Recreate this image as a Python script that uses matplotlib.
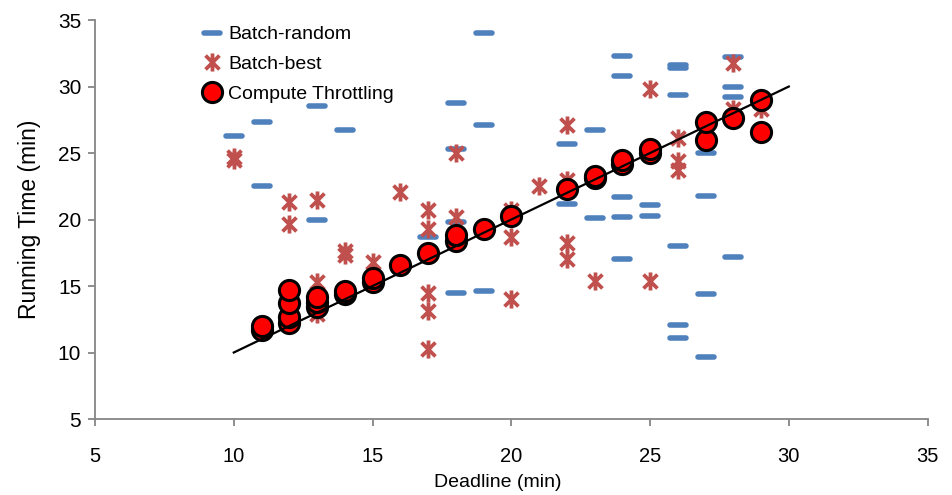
import matplotlib.pyplot as plt
from matplotlib.markers import MarkerStyle
from matplotlib.path import Path

plt.rcParams['font.family'] = ['Liberation Sans', 'DejaVu Sans']

# Batch-random (blue dashes): deadline -> running times
random_x = [10, 11, 11, 13, 13, 14, 17, 18, 18, 18, 18, 19, 19, 19,
            22, 22, 23, 23, 24, 24, 24, 24, 24, 25, 25,
            26, 26, 26, 26, 26, 26, 27, 27, 27, 27, 28, 28, 28, 28]
random_y = [26.3, 27.3, 22.5, 28.5, 20.0, 26.7, 18.7, 28.8, 25.3, 19.8, 14.5, 34.0, 27.1, 14.6,
            25.7, 21.2, 26.7, 20.1, 32.3, 30.8, 21.7, 20.2, 17.0, 21.1, 20.3,
            31.6, 31.4, 29.4, 18.0, 12.1, 11.1, 25.0, 21.8, 14.4, 9.7, 32.2, 30.0, 29.2, 17.2]

# Batch-best (red stars)
best_x = [10, 10, 12, 12, 13, 13, 13, 14, 14, 15, 16, 17, 17, 17, 17, 17, 18, 18,
          20, 20, 20, 21, 22, 22, 22, 22, 23, 25, 25, 26, 26, 26, 28, 28, 29]
best_y = [24.7, 24.5, 21.3, 19.7, 21.5, 15.3, 12.9, 17.6, 17.3, 16.8, 22.1,
          20.7, 19.3, 14.5, 13.1, 10.3, 25.0, 20.2,
          20.7, 18.7, 14.0, 22.5, 27.1, 23.0, 18.2, 17.0, 15.4, 29.8, 15.4,
          26.1, 24.4, 23.7, 31.8, 28.3, 28.3]

# Compute Throttling (red circles)
throttle_x = [11, 11, 12, 12, 12, 12, 13, 13, 13, 14, 14, 15, 15, 16, 17, 18, 18, 19, 20,
              22, 23, 23, 24, 24, 25, 25, 27, 27, 28, 29, 29]
throttle_y = [11.7, 12.0, 12.2, 12.7, 13.7, 14.7, 13.4, 13.8, 14.2, 14.4, 14.6, 15.3, 15.6,
              16.6, 17.5, 18.4, 18.8, 19.3, 20.3, 22.3, 23.1, 23.3, 24.2, 24.5, 25.0, 25.3,
              26.0, 27.3, 27.6, 29.0, 26.6]

# reference line (deadline == running time)
ideal_x = [10, 30]
ideal_y = [10, 30]

axis_grey = '#868686'

# asterisk marker as drawn by Excel: an x with a vertical bar
star_path = Path(
    [(-1, -1), (1, 1), (-1, 1), (1, -1), (0, -1.3), (0, 1.3)],
    [Path.MOVETO, Path.LINETO, Path.MOVETO, Path.LINETO, Path.MOVETO, Path.LINETO]
)

fig = plt.figure(figsize=(9.53, 4.95), dpi=100)
ax = fig.add_axes([0.0997, 0.1535, 0.8736, 0.806])

ax.plot(random_x, random_y, linestyle='none',
        marker=MarkerStyle('_', capstyle='round'), markersize=12,
        markeredgewidth=4, color='#4F81BD', label='Batch-random', zorder=2)
ax.plot(best_x, best_y, linestyle='none', marker=star_path, markersize=13,
        markeredgewidth=2.7, color='#C0504D', markerfacecolor='none',
        label='Batch-best', zorder=3)
ax.plot(throttle_x, throttle_y, linestyle='none', marker='o', markersize=14.5,
        markerfacecolor='#FF0000', markeredgecolor='black', markeredgewidth=2.2,
        label='Compute Throttling', zorder=4)
ax.plot(ideal_x, ideal_y, color='black', linewidth=1.6, zorder=5)

ax.set_xlim(5, 35)
ax.set_ylim(5, 35)
ax.set_xticks(range(5, 36, 5))
ax.set_yticks(range(5, 36, 5))

for side in ['top', 'right']:
    ax.spines[side].set_visible(False)
for side in ['left', 'bottom']:
    ax.spines[side].set_color(axis_grey)
    ax.spines[side].set_linewidth(1.3)
ax.tick_params(direction='out', length=5, width=1.3, color=axis_grey,
               labelsize=15, labelcolor='black', pad=5)
ax.tick_params(axis='x', labelsize=14.5, pad=15)

ax.set_xlabel('Deadline (min)', fontsize=14, va='center')
ax.xaxis.set_label_coords(0.484, -0.16)
ax.set_ylabel('Running Time (min)', fontsize=16.5, labelpad=12)

ax.legend(loc='upper left', bbox_to_anchor=(0.12, 1.005), frameon=False,
          fontsize=14, handlelength=1.0, handletextpad=0.3,
          labelspacing=0.62, borderaxespad=0)

fig.savefig('out.png', dpi=100)
